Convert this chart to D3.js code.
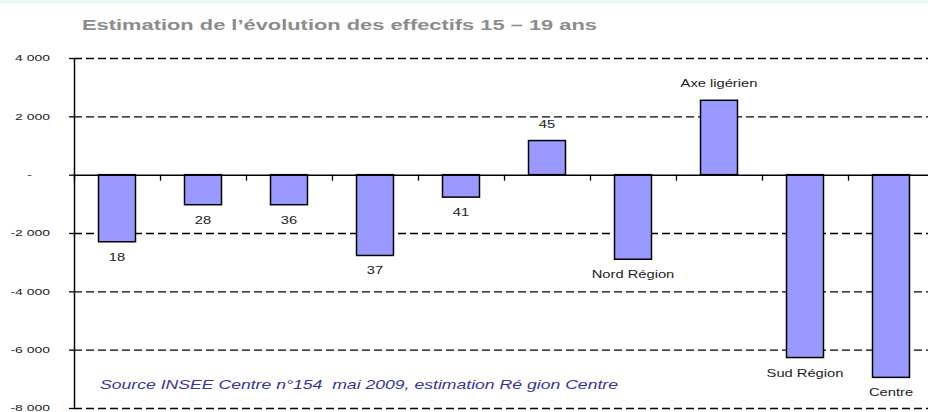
<!DOCTYPE html>
<html>
<head>
<meta charset="utf-8">
<script src="https://cdn.jsdelivr.net/npm/d3@7"></script>
<style>
  body { margin: 0; background: #fff; }
  text { font-family: "Liberation Sans", Arial, sans-serif; }
</style>
</head>
<body>
<div id="chart"></div>
<script>
// data
var categories = ["18", "28", "36", "37", "41", "45", "Nord Région", "Axe ligérien", "Sud Région", "Centre"];
var values = [-2300, -1030, -1030, -2770, -770, 1170, -2900, 2550, -6270, -6950];
var yTicks = [4000, 2000, 0, -2000, -4000, -6000, -8000];
var yTickLabels = ["4 000", "2 000", "-", "-2 000", "-4 000", "-6 000", "-8 000"];

var W = 928, H = 412;
var margin = {top: 58, right: -6, bottom: 4, left: 74},
    width = W - margin.left - margin.right,
    height = H - margin.top - margin.bottom;

// the original picture is stretched sideways, text follows that
function stretch(sel, k) {
    sel.each(function() {
        var w = this.getComputedTextLength();
        this.setAttribute("textLength", w * k);
        this.setAttribute("lengthAdjust", "spacingAndGlyphs");
    });
}

var root = d3.select("#chart")
    .append("svg")
        .attr("width", W)
        .attr("height", H);

// pale strip along the top
root.append("rect")
    .attr("x", 0).attr("y", 0)
    .attr("width", W).attr("height", 4)
    .style("fill", "#eaf8f8");

var svg = root.append("g")
    .attr("transform", "translate(" + margin.left + "," + margin.top + ")");

var x = d3.scaleBand()
    .domain(categories)
    .range([0, width])
    .padding(0);

var y = d3.scaleLinear()
    .domain([-8000, 4000])
    .range([height, 0]);

// dashed gridlines
svg.append("g")
    .attr("class", "grid")
    .call(d3.axisLeft(y).tickValues(yTicks.filter(function(d){ return d !== 0; }))
        .tickSize(-(W - margin.left)).tickFormat(""))
    .call(g => g.select(".domain").remove())
    .selectAll("line")
        .style("stroke", "#000")
        .style("stroke-width", 1.4)
        .style("stroke-dasharray", "8,4");

// bars
var barW = x.bandwidth() * 0.43;
svg.selectAll(".bar")
    .data(values)
    .enter()
    .append("rect")
        .attr("class", "bar")
        .attr("x", function(d, i) { return x(categories[i]) + (x.bandwidth() - barW) / 2; })
        .attr("y", function(d) { return y(Math.max(0, d)); })
        .attr("width", barW)
        .attr("height", function(d) { return Math.abs(y(d) - y(0)); })
        .style("fill", "#9999ff")
        .style("stroke", "#000")
        .style("stroke-width", 1.5);

// category labels at the end of each bar
var labels = svg.selectAll(".lbl")
    .data(values)
    .enter()
    .append("text")
        .attr("class", "lbl")
        .attr("x", function(d, i) { return x(categories[i]) + x.bandwidth() / 2; })
        .attr("y", function(d) { return d < 0 ? y(d) + 19 : y(d) - 13; })
        .attr("text-anchor", "middle")
        .style("font-size", "10.5px")
        .style("fill", "#222")
        .text(function(d, i) { return categories[i]; });
stretch(labels, 1.4);

// x axis on zero, ticks at category boundaries
var xb = d3.scaleLinear().domain([0, categories.length]).range([0, width]);
svg.append("g")
    .attr("transform", "translate(0," + y(0) + ")")
    .call(d3.axisBottom(xb).tickValues(d3.range(categories.length + 1))
        .tickSize(6).tickSizeOuter(0).tickFormat(""))
    .call(g => g.selectAll("line").style("stroke", "#000").style("stroke-width", 1.3))
    .call(g => g.select(".domain").style("stroke", "#000").style("stroke-width", 1.5));

// y axis
var yAxis = svg.append("g")
    .call(d3.axisLeft(y).tickValues(yTicks).tickSize(5).tickSizeOuter(0)
        .tickFormat(function(d, i) { return yTickLabels[i]; }))
    .call(g => g.select(".domain").style("stroke", "#000").style("stroke-width", 1.5))
    .call(g => g.selectAll("line").style("stroke", "#000").style("stroke-width", 1.3));
var yText = yAxis.selectAll("text")
    .attr("x", function(d) { return d === 0 ? -42 : -24; })
    .style("font-size", "9px")
    .style("fill", "#222")
    .style("font-family", "Liberation Sans, Arial, sans-serif");
stretch(yText, 1.55);

// title
root.append("text")
    .attr("x", 82)
    .attr("y", 30)
    .attr("textLength", 515)
    .attr("lengthAdjust", "spacingAndGlyphs")
    .style("font-size", "15.5px")
    .style("font-weight", "bold")
    .style("fill", "#8c8c8c")
    .text("Estimation de l’évolution des effectifs 15 – 19 ans");

// source note
svg.append("text")
    .attr("x", 100 - margin.left)
    .attr("y", 389 - margin.top)
    .attr("textLength", 518)
    .attr("lengthAdjust", "spacingAndGlyphs")
    .style("font-size", "13px")
    .style("font-style", "italic")
    .style("fill", "#35359a")
    .style("white-space", "pre")
    .text("Source INSEE Centre n°154  mai 2009, estimation Ré gion Centre");
</script>
</body>
</html>
